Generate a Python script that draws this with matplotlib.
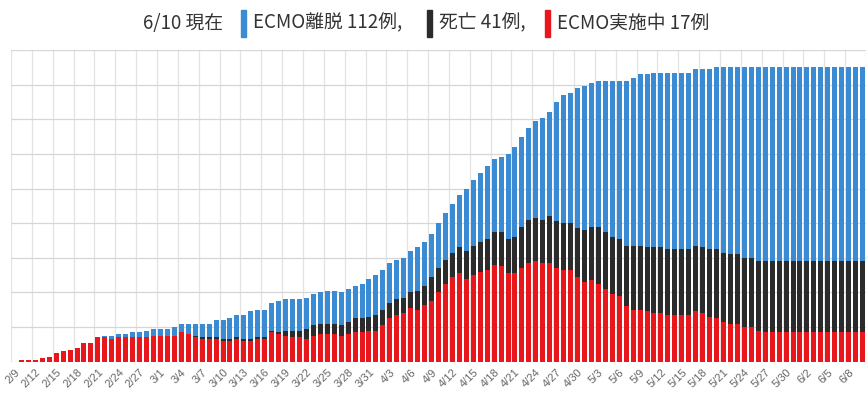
import numpy as np
import pandas as pd
import matplotlib
matplotlib.use("Agg")
import matplotlib.pyplot as plt
from matplotlib.patches import Rectangle

# daily values, 2/9 .. 6/10
dates = pd.date_range("2020-02-09", "2020-06-10")
day_labels = [f"{d.month}/{d.day}" for d in dates]

ongoing = [0, 1, 1, 1, 2, 3, 5, 6, 7, 8,
           11, 11, 14, 14, 13, 14, 14, 14, 14, 14,
           15, 15, 15, 15, 17, 16, 14, 13, 13, 13,
           12, 12, 13, 12, 12, 13, 13, 17, 16, 15,
           14, 14, 13, 15, 16, 16, 16, 15, 16, 17,
           17, 18, 18, 21, 25, 27, 28, 31, 30, 33,
           35, 40, 45, 49, 51, 48, 50, 52, 53, 56,
           55, 51, 51, 54, 57, 58, 57, 57, 54, 53,
           53, 49, 46, 47, 45, 42, 39, 38, 32, 30,
           30, 29, 28, 28, 27, 27, 27, 27, 29, 28,
           26, 25, 23, 22, 22, 20, 20, 18, 17, 17,
           17, 17, 17, 17, 17, 17, 17, 17, 17, 17,
           17, 17, 17]

deaths = [0, 0, 0, 0, 0, 0, 0, 0, 0, 0,
          0, 0, 0, 0, 0, 0, 0, 0, 0, 0,
          0, 0, 0, 0, 0, 0, 1, 1, 1, 1,
          1, 1, 1, 1, 1, 1, 1, 1, 1, 3,
          4, 4, 6, 6, 6, 6, 6, 6, 7, 8,
          8, 8, 9, 9, 9, 9, 9, 9, 11, 11,
          14, 14, 14, 14, 15, 16, 17, 17, 18, 19,
          20, 20, 21, 24, 25, 25, 25, 27, 27, 27,
          27, 28, 30, 31, 33, 33, 33, 33, 35, 37,
          37, 37, 38, 38, 38, 38, 38, 38, 38, 38,
          39, 40, 40, 40, 40, 40, 40, 40, 41, 41,
          41, 41, 41, 41, 41, 41, 41, 41, 41, 41,
          41, 41, 41]

weaned = [0, 0, 0, 0, 0, 0, 0, 0, 0, 0,
          0, 0, 0, 1, 2, 2, 2, 3, 3, 4,
          4, 4, 4, 5, 5, 6, 7, 8, 8, 10,
          11, 12, 13, 14, 16, 16, 16, 16, 18, 18,
          18, 18, 18, 18, 18, 19, 19, 19, 19, 19,
          20, 22, 23, 23, 23, 23, 23, 24, 25, 25,
          25, 26, 27, 28, 30, 36, 38, 40, 42, 42,
          43, 49, 52, 52, 53, 56, 59, 60, 69, 74,
          75, 81, 83, 83, 84, 87, 90, 91, 95, 97,
          99, 100, 101, 101, 102, 102, 102, 102, 102, 103,
          104, 105, 107, 108, 108, 110, 110, 112, 112, 112,
          112, 112, 112, 112, 112, 112, 112, 112, 112, 112,
          112, 112, 112]

RED = "#e8171b"
BLACK = "#2b2b2b"
BLUE = "#3a8bd3"

W, H = 866, 403
fig = plt.figure(figsize=(W / 100, H / 100), dpi=100)
ax = fig.add_axes([11 / W, 1 - 361.7 / H, 1 - 11 / W, (361.7 - 50) / H])

x = np.arange(len(dates))
ongoing = np.array(ongoing)
deaths = np.array(deaths)
weaned = np.array(weaned)

ax.bar(x, ongoing, width=0.72, color=RED, zorder=2)
ax.bar(x, deaths, width=0.72, bottom=ongoing, color=BLACK, zorder=2)
ax.bar(x, weaned, width=0.72, bottom=ongoing + deaths, color=BLUE, zorder=2)

ax.set_ylim(0, 180)
ax.set_yticks(np.arange(0, 181, 20))
ax.set_yticklabels([])
ax.tick_params(axis="y", length=0)
ax.grid(axis="y", color="#d6d6d6", linewidth=0.9, zorder=0)

ax.set_xlim(-0.14, 121.3)
ax.set_xticks(x[::3])
ax.set_xticklabels(day_labels[::3], rotation=45, ha="right", va="top",
                   rotation_mode="anchor", fontsize=8, color="#666666",
                   family="Liberation Sans")
ax.tick_params(axis="x", length=0, pad=4)
ax.set_xticks(np.arange(-0.5, len(dates), 3), minor=True)
ax.tick_params(axis="x", which="minor", length=0)
ax.grid(axis="x", which="minor", color="#e3e3e3", linewidth=0.9, zorder=0)
ax.set_axisbelow(True)
for s in ax.spines.values():
    s.set_visible(False)

# title with coloured markers
title_font = dict(family=["Noto Sans CJK JP", "DejaVu Sans"], fontsize=13.5,
                  color="#333333", va="center", ha="left")
ty = 1 - 23 / H
fig.text(143 / W, ty, "6/10 現在", **title_font)
fig.text(253 / W, ty, "ECMO離脱 112例,", **title_font)
fig.text(439 / W, ty, "死亡 41例,", **title_font)
fig.text(557 / W, ty, "ECMO実施中 17例", **title_font)
for px, c in [(241, BLUE), (427, BLACK), (545, RED)]:
    fig.add_artist(Rectangle((px / W, 1 - 37 / H), 5 / W, 27 / H,
                             transform=fig.transFigure, color=c))

fig.savefig("out.png", dpi=100)
